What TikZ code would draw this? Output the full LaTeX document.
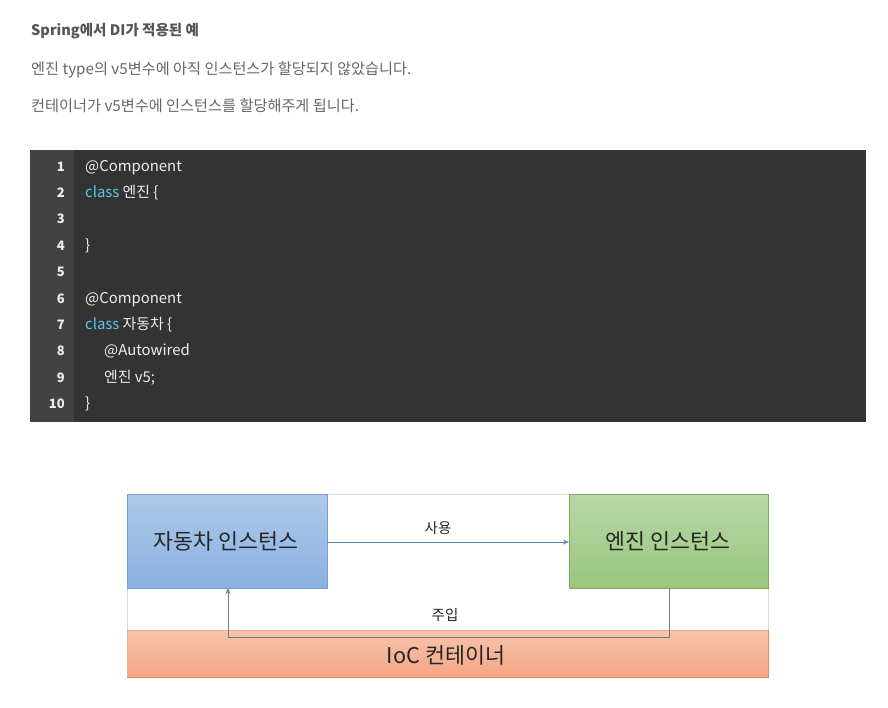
\documentclass[tikz,border=0pt]{standalone}
\usepackage{fontspec}
\setmainfont{Noto Sans CJK KR}
\usetikzlibrary{arrows.meta}
\definecolor{txtgray}{HTML}{666666}
\definecolor{titlegray}{HTML}{555555}
\definecolor{codebg}{HTML}{333333}
\definecolor{gutterbg}{HTML}{424242}
\definecolor{codefg}{HTML}{EEEEEE}
\definecolor{kw}{HTML}{5CC8E6}
\definecolor{bluetop}{HTML}{AEC8E9}
\definecolor{bluebot}{HTML}{8AB1E1}
\definecolor{blueline}{HTML}{7A9DCB}
\definecolor{greentop}{HTML}{B8D8A5}
\definecolor{greenbot}{HTML}{99C67F}
\definecolor{greenline}{HTML}{7EAB60}
\definecolor{orangetop}{HTML}{F8C4AB}
\definecolor{orangebot}{HTML}{F4A585}
\definecolor{orangeline}{HTML}{E58A5C}
\definecolor{arrowblue}{HTML}{5A82B6}
\definecolor{injline}{HTML}{6C7C8E}
\tikzset{
  bodytext/.style={anchor=base west, inner sep=0pt, text=txtgray, font=\fontsize{15.2}{17}\selectfont},
  lnum/.style={anchor=base east, inner sep=0pt, text=codefg, font=\fontsize{13}{15}\selectfont\bfseries},
  codeline/.style={anchor=base west, inner sep=0pt, text=codefg, font=\fontsize{14.9}{17}\selectfont},
  bigbox/.style={inner sep=0pt, font=\fontsize{21.7}{25}\selectfont, text=black!85},
  smalllabel/.style={inner sep=0pt, font=\fontsize{14.5}{16}\selectfont, text=black!85},
}
\begin{document}
\begin{tikzpicture}[x=1pt,y=-1pt]
\useasboundingbox (0,0) rectangle (888,707);
% texts
\node[bodytext, text=titlegray, font=\fontsize{14.5}{16}\selectfont\bfseries] (title) at (31,35) {Spring에서 DI가 적용된 예};
\node[bodytext] (t1) at (31,74.5) {엔진 type의 v5변수에 아직 인스턴스가 할당되지 않았습니다.};
\node[bodytext] (t2) at (31,111.5) {컨테이너가 v5변수에 인스턴스를 할당해주게 됩니다.};
% code block
\fill[codebg] (30,150) rectangle (866,422);
\fill[gutterbg] (30,150) rectangle (74,422);
\foreach \i/\y in {1/166,2/192,3/218,4/245,5/271,6/298,7/324,8/350,9/377,10/403}{
  \node[lnum] (ln\i) at (65,\y+5) {\i};
}
\node[codeline] (c1) at (85,171) {@Component};
\node[codeline] (c2) at (85,197) {\textcolor{kw}{class} 엔진 \{};
\node[codeline] (c4) at (85,250) {\}};
\node[codeline] (c6) at (85,303) {@Component};
\node[codeline] (c7) at (85,329) {\textcolor{kw}{class} 자동차 \{};
\node[codeline] (c8) at (104,355) {@Autowired};
\node[codeline] (c9) at (104,382) {엔진 v5;};
\node[codeline] (c10) at (85,408) {\}};
% diagram
\draw[black!15, line width=0.6pt] (127,494) rectangle (768,677);
\shade[top color=orangetop, bottom color=orangebot] (127,630) rectangle (768,677);
\draw[orangeline!70, line width=0.8pt] (127,630) -- (768,630);
\draw[orangeline, line width=0.8pt] (768,630) -- (768,677) -- (127,677);
\draw[orangeline!70, line width=0.6pt] (127,630) -- (127,677);
\node[bigbox] (ioc) at (446,655) {IoC 컨테이너};
\shade[top color=bluetop, bottom color=bluebot, draw=blueline, line width=0.8pt] (127,494) rectangle (327,588);
\node[bigbox] (car) at (226,541) {자동차 인스턴스};
\coordinate (carR) at (327,542);
\coordinate (carB) at (228,588);
\shade[top color=greentop, bottom color=greenbot, draw=greenline, line width=0.8pt] (569,494) rectangle (768,588);
\node[bigbox] (engine) at (668,541) {엔진 인스턴스};
\coordinate (engL) at (569,542);
\coordinate (engB) at (669,588);
\draw[arrowblue, line width=0.8pt, -{Stealth[length=6pt,width=5pt]}] (carR) -- (engL);
\node[smalllabel] (use) at (438,528) {사용};
\draw[injline, line width=0.8pt, -{Stealth[length=6pt,width=5pt,color=arrowblue]}] (engB) -- (669,637) -- (228,637) -- (carB);
\node[smalllabel] (inj) at (445,615) {주입};
\end{tikzpicture}
\end{document}
